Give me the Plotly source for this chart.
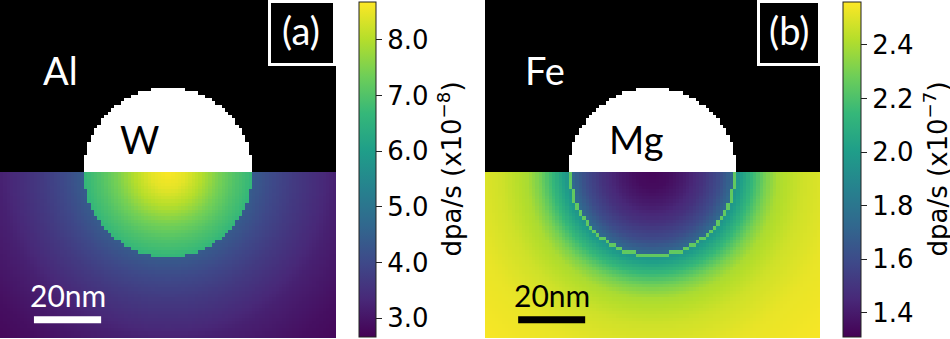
import numpy as np
import plotly.graph_objects as go

# ---------------- data ----------------
N_CELLS = 100            # grid cells per side (1 nm each)
SPHERE_R = 25            # precipitate radius, nm
SPHERE_CX, SPHERE_CY = 50, 51   # sphere centre (x, depth), nm; interface at depth 51
SCALE_BAR_NM = 20

# panel (a): W in Al, dpa/s (x1e-8), vs distance from centre / R
r_in_a = [0.0, 0.2, 0.4, 0.6, 0.8, 1.0]
dpa_in_a = [8.65, 8.45, 8.0, 7.45, 7.0, 6.65]
r_out_a = [1.0, 1.25, 1.5, 2.0, 2.5, 3.0]
dpa_out_a = [4.4, 4.0, 3.7, 3.2, 2.9, 2.7]
ticks_a = [3.0, 4.0, 5.0, 6.0, 7.0, 8.0]
range_a = [2.66, 8.68]

# panel (b): Mg in Fe, dpa/s (x1e-7)
r_in_b = [0.0, 0.2, 0.4, 0.6, 0.8, 0.96]
dpa_in_b = [1.33, 1.35, 1.41, 1.49, 1.6, 1.74]
dpa_ring_b = 2.25
r_out_b = [1.0, 1.1, 1.2, 1.35, 1.5, 1.8, 2.2, 3.0]
dpa_out_b = [1.95, 2.05, 2.15, 2.3, 2.4, 2.47, 2.52, 2.56]
ticks_b = [1.4, 1.6, 1.8, 2.0, 2.2, 2.4]
range_b = [1.31, 2.56]

# ---------------- build fields ----------------
xc = np.arange(N_CELLS) + 0.5
yc = np.arange(N_CELLS) + 0.5
X, Y = np.meshgrid(xc, yc)
D = np.sqrt((X - SPHERE_CX) ** 2 + (Y - SPHERE_CY) ** 2) / SPHERE_R
below = Y > SPHERE_CY
inside = D < 1.0

# boundary ring cells (inside cells with an outside 4-neighbour)
outside = ~inside
nb_out = (np.roll(outside, 1, 0) | np.roll(outside, -1, 0) |
          np.roll(outside, 1, 1) | np.roll(outside, -1, 1))
ring = inside & nb_out


def field(r_in, v_in, r_out, v_out, ring_val=None):
    z = np.where(inside, np.interp(D, r_in, v_in), np.interp(D, r_out, v_out))
    if ring_val is not None:
        z = np.where(ring & below, ring_val, z)
    z = np.where(below, z, np.nan)
    return z


z_a = field(r_in_a, dpa_in_a, r_out_a, dpa_out_a)
z_b = field(r_in_b, dpa_in_b, r_out_b, dpa_out_b, dpa_ring_b)
z_top = np.where(~below, np.where(inside, 1.0, 0.0), np.nan)

# ---------------- figure ----------------
W, H = 950, 339
TICKFONT = dict(family="DejaVu Sans", size=26, color="black")
LABFONT = "Lato"


def px_x(p):
    return p / W


def px_y(p):
    return 1 - p / H


def cbar(x_px, thick, tickvals):
    return dict(
        x=px_x(x_px), xref="paper", xanchor="left", xpad=0,
        y=px_y(169.5), yanchor="middle", ypad=0,
        len=335 / H, lenmode="fraction",
        thickness=thick, thicknessmode="pixels",
        outlinewidth=1, outlinecolor="#222",
        ticks="outside", ticklen=6, tickwidth=1, tickcolor="#222",
        tickvals=tickvals, ticktext=[f"{v:.1f}" for v in tickvals],
        tickfont=TICKFONT,
    )


fig = go.Figure()
fig.add_trace(go.Heatmap(
    x=xc, y=yc, z=z_a, colorscale="Viridis", zmin=range_a[0], zmax=range_a[1],
    colorbar=cbar(359, 17, ticks_a),
    xaxis="x", yaxis="y", hoverinfo="skip"))
fig.add_trace(go.Heatmap(
    x=xc, y=yc, z=z_top, colorscale=[[0, "black"], [1, "white"]], zmin=0, zmax=1,
    showscale=False, xaxis="x", yaxis="y", hoverinfo="skip"))
fig.add_trace(go.Heatmap(
    x=xc, y=yc, z=z_b, colorscale="Viridis", zmin=range_b[0], zmax=range_b[1],
    colorbar=cbar(843, 18, ticks_b),
    xaxis="x2", yaxis="y2", hoverinfo="skip"))
fig.add_trace(go.Heatmap(
    x=xc, y=yc, z=z_top, colorscale=[[0, "black"], [1, "white"]], zmin=0, zmax=1,
    showscale=False, xaxis="x2", yaxis="y2", hoverinfo="skip"))

ax = dict(visible=False, range=[0, N_CELLS], showgrid=False, zeroline=False)
ay = dict(visible=False, range=[N_CELLS, 0], showgrid=False, zeroline=False)
ydom = [1 - 338 / H, 1]

annotations = []
shapes = []


def label(text, x, y, size, color, xref, yref, family=LABFONT, angle=0):
    annotations.append(dict(text=text, x=x, y=y, xref=xref, yref=yref,
                            showarrow=False, xanchor="center", yanchor="middle",
                            textangle=angle,
                            font=dict(family=family, size=size, color=color)))


for xr, yr, mat, prec, fg, bar0 in [
        ("x", "y", "Al", "W", "white", 10.1),
        ("x2", "y2", "Fe", "Mg", "black", 9.9)]:
    label(mat, 18.0, 20.6, 38, "white", xr, yr)
    label(prec, 41.5 if prec == "W" else 45, 41.0, 38, "black", xr, yr)
    label("20nm", bar0 + SCALE_BAR_NM / 2, 87.2, 30, fg, xr, yr)
    shapes.append(dict(type="rect", xref=xr, yref=yr, x0=bar0, x1=bar0 + SCALE_BAR_NM,
                       y0=93.6, y1=95.6, fillcolor=fg, line=dict(width=0)))

# panel tags
for x0, x1, tag, cx in [(269.5, 334.5, "(a)", 301), (758.5, 819.5, "(b)", 789)]:
    shapes.append(dict(type="rect", xref="paper", yref="paper",
                       x0=px_x(x0), x1=px_x(x1), y0=px_y(64.5), y1=px_y(1.5),
                       fillcolor="black", line=dict(color="white", width=3)))
    label(tag, px_x(cx), px_y(30), 38, "white", "paper", "paper")

# colorbar titles
for cx, txt in [(450, "dpa/s (x10<sup>−8</sup>)"), (936, "dpa/s (x10<sup>−7</sup>)")]:
    label(txt, px_x(cx), px_y(169.5), 26, "black", "paper", "paper",
          family="DejaVu Sans", angle=-90)

fig.update_layout(
    width=W, height=H, margin=dict(l=0, r=0, t=0, b=0),
    paper_bgcolor="white", plot_bgcolor="white",
    xaxis=dict(domain=[0, 336 / W], anchor="y", **ax),
    yaxis=dict(domain=ydom, anchor="x", **ay),
    xaxis2=dict(domain=[485 / W, 820 / W], anchor="y2", **ax),
    yaxis2=dict(domain=ydom, anchor="x2", **ay),
    annotations=annotations, shapes=shapes, showlegend=False,
)

fig.write_html("out.html",
               config={"displayModeBar": False},
               post_script="document.body.style.margin='0';"
                           "document.body.style.overflow='hidden';")
